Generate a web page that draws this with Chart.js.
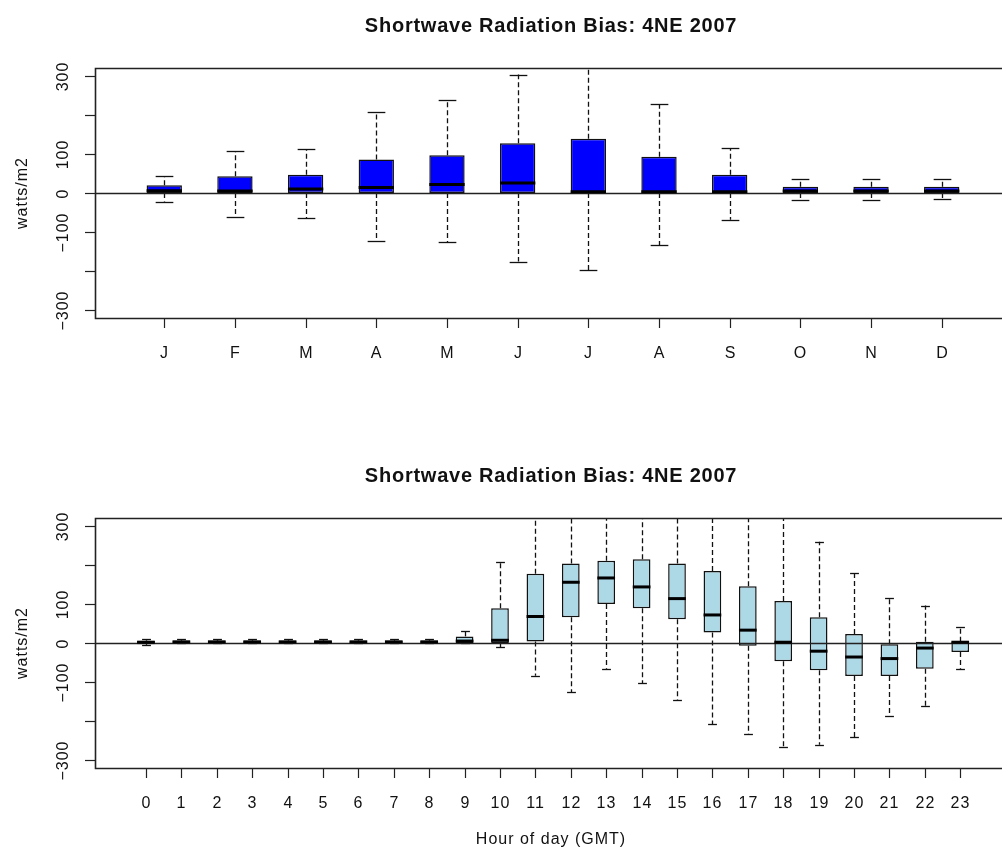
<!DOCTYPE html>
<html>
<head>
<meta charset="utf-8">
<script src="https://cdn.jsdelivr.net/npm/chart.js@4.4.1/dist/chart.umd.min.js"></script>
<style>
  html, body { margin: 0; padding: 0; background: #fff; overflow: hidden; }
  canvas { position: absolute; left: 0; }
  #monthly { top: 0; }
  #hourly { top: 430px; }
</style>
</head>
<body>
<canvas id="monthly" width="1002" height="430"></canvas>
<canvas id="hourly" width="1002" height="425"></canvas>
<script>
// Text
const chartTitle = 'Shortwave Radiation Bias: 4NE 2007';
const yAxisTitle = 'watts/m2';
const hourAxisTitle = 'Hour of day (GMT)';

// Shared value axis
const yTickValues = [-300, -200, -100, 0, 100, 200, 300];
const yTickLabels = ['\u2212300', '', '\u2212100', '0', '100', '', '300'];

// Monthly bias distribution (whisker ends, quartiles, median)
const months = ['J', 'F', 'M', 'A', 'M', 'J', 'J', 'A', 'S', 'O', 'N', 'D'];
const monthLow    = [-22, -61, -65, -123, -126, -176, -199, -134, -69, -19, -19, -15];
const monthQ1     = [0, 0, 0, 0, 0, 0, 0, 0, 0, 0, 0, 0];
const monthMedian = [6, 5, 10, 14, 22, 26, 3, 3, 3, 5, 5, 5];
const monthQ3     = [20, 43, 47, 86, 97, 128, 139, 93, 47, 16, 16, 16];
const monthHigh   = [43, 108, 112, 208, 239, 304, 345, 228, 115, 36, 36, 36];

// Hourly bias distribution
const hours = ['0', '1', '2', '3', '4', '5', '6', '7', '8', '9', '10', '11',
               '12', '13', '14', '15', '16', '17', '18', '19', '20', '21', '22', '23'];
const hourLow    = [-6, 0, 0, 0, 0, 0, 0, 0, 0, 0, -11, -84, -127, -66, -103, -146, -208, -234, -268, -261, -242, -188, -161, -66];
const hourQ1     = [-3, 0, 0, 0, 0, 0, 0, 0, 0, 0, 0, 4, 66, 100, 89, 61, 27, -7, -47, -70, -85, -85, -66, -23];
const hourMedian = [2, 3, 3, 3, 3, 3, 3, 3, 3, 5, 7, 68, 156, 167, 144, 114, 72, 33, 2, -21, -36, -40, -13, 2];
const hourQ3     = [6, 6, 6, 6, 6, 6, 6, 6, 6, 17, 89, 178, 204, 211, 215, 204, 185, 146, 108, 66, 23, -3, 3, 3];
const hourHigh   = [9, 9, 9, 9, 9, 9, 9, 9, 9, 32, 208, 350, 350, 350, 350, 350, 350, 350, 350, 260, 181, 115, 96, 42];

const FONT = "'Liberation Sans', Arial, Helvetica, sans-serif";
const INK = '#111';

function strokeLine(ctx, x1, y1, x2, y2) {
  ctx.beginPath();
  ctx.moveTo(x1, y1);
  ctx.lineTo(x2, y2);
  ctx.stroke();
}

// Whiskers and staples go under the boxes; zero line and medians on top.
const boxPlotMarks = {
  id: 'boxPlotMarks',
  beforeDatasetsDraw(chart, args, o) {
    const { ctx, chartArea: a, scales: { x, y } } = chart;
    const bars = chart.getDatasetMeta(0).data;
    ctx.save();
    ctx.beginPath();
    ctx.rect(a.left, a.top, a.right - a.left, a.bottom - a.top);
    ctx.clip();
    ctx.strokeStyle = INK;
    ctx.lineWidth = 1.3;
    o.low.forEach((lo, i) => {
      const px = Math.round(x.getPixelForValue(i)) + 0.5;
      const cap = bars[i].width / 4;
      const yHi = y.getPixelForValue(o.high[i]);
      const yLo = y.getPixelForValue(lo);
      ctx.setLineDash([5, 3]);
      strokeLine(ctx, px, y.getPixelForValue(o.q3[i]), px, yHi);
      strokeLine(ctx, px, y.getPixelForValue(o.q1[i]), px, yLo);
      ctx.setLineDash([]);
      strokeLine(ctx, px - cap, Math.round(yHi) + 0.5, px + cap, Math.round(yHi) + 0.5);
      strokeLine(ctx, px - cap, Math.round(yLo) + 0.5, px + cap, Math.round(yLo) + 0.5);
    });
    ctx.restore();
  },
  afterDatasetsDraw(chart, args, o) {
    const { ctx, chartArea: a, scales: { x, y } } = chart;
    const bars = chart.getDatasetMeta(0).data;
    ctx.save();
    ctx.strokeStyle = '#222';
    ctx.lineWidth = 1.3;
    const y0 = Math.round(y.getPixelForValue(0)) + 0.5;
    strokeLine(ctx, a.left, y0, a.right, y0);
    ctx.strokeStyle = '#000';
    ctx.lineWidth = 3;
    o.median.forEach((m, i) => {
      const px = x.getPixelForValue(i);
      const half = bars[i].width / 2;
      const py = y.getPixelForValue(m);
      strokeLine(ctx, px - half, py, px + half, py);
    });
    ctx.restore();
  }
};

// Plot frame, ticks and all text around the plotting region
const frameAndAxes = {
  id: 'frameAndAxes',
  afterDraw(chart, args, o) {
    const { ctx, chartArea: a, scales: { x, y } } = chart;
    ctx.save();
    ctx.strokeStyle = '#222';
    ctx.lineWidth = 1.6;
    ctx.beginPath();
    ctx.moveTo(a.right + 20, a.top + 0.5);
    ctx.lineTo(a.left + 0.5, a.top + 0.5);
    ctx.lineTo(a.left + 0.5, a.bottom + 0.5);
    ctx.lineTo(a.right + 20, a.bottom + 0.5);
    ctx.stroke();

    ctx.lineWidth = 1.2;
    ctx.fillStyle = INK;
    ctx.font = '16px ' + FONT;
    ctx.letterSpacing = '1px';
    ctx.textAlign = 'center';
    ctx.textBaseline = 'alphabetic';

    x.ticks.forEach((t, i) => {
      const px = Math.round(x.getPixelForValue(t.value)) + 0.5;
      strokeLine(ctx, px, a.bottom, px, a.bottom + 10);
      ctx.fillText(o.categories[i], px, a.bottom + 40);
    });

    o.yValues.forEach((v, i) => {
      const py = Math.round(y.getPixelForValue(v)) + 0.5;
      strokeLine(ctx, a.left - 10, py, a.left, py);
      if (o.yLabels[i]) {
        ctx.save();
        ctx.translate(a.left - 27, py);
        ctx.rotate(-Math.PI / 2);
        ctx.fillText(o.yLabels[i], 0, 0);
        ctx.restore();
      }
    });

    ctx.save();
    ctx.translate(27, (a.top + a.bottom) / 2);
    ctx.rotate(-Math.PI / 2);
    ctx.fillText(o.yTitle, 0, 0);
    ctx.restore();

    if (o.xTitle) {
      ctx.fillText(o.xTitle, 551, a.bottom + 76);
    }

    ctx.font = 'bold 20px ' + FONT;
    ctx.letterSpacing = '0.75px';
    ctx.fillText(o.title, 551, a.top - 36.5);
    ctx.restore();
  }
};

function boxChart(canvasId, cats, low, q1, median, q3, high, fill, xMin, xMax, padding, xTitle) {
  return new Chart(document.getElementById(canvasId), {
    type: 'bar',
    data: {
      datasets: [{
        data: cats.map((c, i) => ({ x: i, y: [q1[i], q3[i]] })),
        backgroundColor: fill,
        borderColor: '#111',
        borderWidth: 1.5,
        borderSkipped: false,
        categoryPercentage: 1,
        barPercentage: 0.5
      }]
    },
    options: {
      responsive: false,
      animation: false,
      events: [],
      layout: { padding },
      scales: {
        x: {
          type: 'linear', min: xMin, max: xMax, offset: false, display: false,
          grid: { offset: false },
          afterBuildTicks: (scale) => { scale.ticks = cats.map((c, i) => ({ value: i })); }
        },
        y: {
          type: 'linear', min: -321, max: 321, display: false,
          afterBuildTicks: (scale) => { scale.ticks = yTickValues.map(v => ({ value: v })); }
        }
      },
      plugins: {
        legend: { display: false },
        tooltip: { enabled: false },
        boxPlotMarks: { low, q1, median, q3, high },
        frameAndAxes: {
          categories: cats, yValues: yTickValues, yLabels: yTickLabels,
          yTitle: yAxisTitle, xTitle, title: chartTitle
        }
      }
    },
    plugins: [boxPlotMarks, frameAndAxes]
  });
}

boxChart('monthly', months, monthLow, monthQ1, monthMedian, monthQ3, monthHigh,
         '#0000ff', -0.98, 11.853, { left: 95, top: 68, right: 0, bottom: 112 }, null);
boxChart('hourly', hours, hourLow, hourQ1, hourMedian, hourQ3, hourHigh,
         '#add8e6', -1.44, 24.18, { left: 95, top: 88, right: 0, bottom: 87 }, hourAxisTitle);
</script>
</body>
</html>
